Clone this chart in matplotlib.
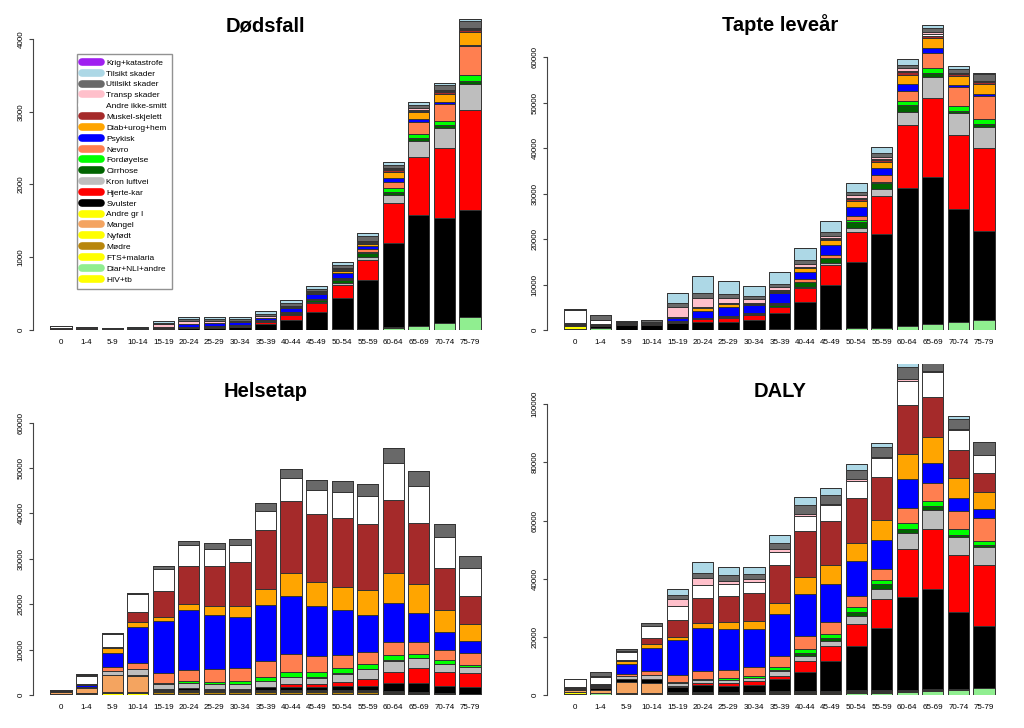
import numpy as np
import matplotlib.pyplot as plt
from matplotlib.lines import Line2D

ages = ["0", "1-4", "5-9", "10-14", "15-19", "20-24", "25-29", "30-34", "35-39",
        "40-44", "45-49", "50-54", "55-59", "60-64", "65-69", "70-74", "75-79"]

# causes in stacking order, bottom to top
causes = ["HIV+tb", "Diar+NLI+andre", "FTS+malaria", "Mødre", "Nyfødt", "Mangel",
          "Andre gr I", "Svulster", "Hjerte-kar", "Kron luftvei", "Cirrhose",
          "Fordøyelse", "Nevro", "Psykisk", "Diab+urog+hem", "Muskel-skjelett",
          "Andre ikke-smitt", "Transp skader", "Utilsikt skader", "Tilsikt skader",
          "Krig+katastrofe"]
colors = ["#FFFF00", "#90EE90", "#FFFF00", "#B8860B", "#FFFF00", "#F4A460",
          "#FFFF00", "#000000", "#FF0000", "#BEBEBE", "#006400",
          "#00FF00", "#FF7F50", "#0000FF", "#FFA500", "#A52A2A",
          "#FFFFFF", "#FFC0CB", "#696969", "#ADD8E6",
          "#A020F0"]

# one row per age group, values in the cause order above
dodsfall = [
    [0, 3, 0, 0, 12, 0, 1, 3, 2, 0, 0, 0, 3, 0, 2, 0, 25, 2, 5, 0, 0],
    [0, 3, 0, 0, 0, 0, 1, 15, 1, 0, 0, 0, 5, 0, 1, 0, 8, 4, 7, 0, 0],
    [0, 1, 0, 0, 0, 0, 0, 14, 1, 0, 0, 0, 3, 0, 1, 0, 3, 5, 4, 0, 0],
    [0, 1, 0, 0, 0, 0, 0, 12, 1, 0, 0, 0, 4, 0, 1, 0, 3, 5, 5, 3, 0],
    [0, 1, 0, 0, 0, 0, 0, 12, 4, 1, 0, 0, 4, 10, 2, 1, 2, 40, 22, 25, 0],
    [0, 1, 0, 0, 0, 0, 0, 25, 10, 2, 2, 1, 5, 35, 3, 1, 2, 30, 33, 34, 0],
    [0, 1, 0, 0, 0, 0, 0, 30, 10, 2, 3, 1, 5, 40, 3, 1, 2, 20, 30, 35, 0],
    [0, 1, 0, 0, 0, 0, 0, 45, 15, 3, 5, 1, 3, 35, 3, 2, 2, 12, 25, 31, 0],
    [0, 1, 0, 0, 0, 0, 1, 80, 30, 5, 10, 3, 5, 25, 5, 3, 3, 15, 35, 44, 0],
    [0, 2, 0, 0, 0, 0, 1, 135, 69, 8, 15, 5, 8, 60, 10, 5, 5, 12, 40, 38, 0],
    [0, 3, 0, 0, 0, 0, 1, 250, 115, 15, 25, 8, 10, 65, 15, 8, 5, 15, 35, 40, 0],
    [0, 5, 0, 0, 0, 0, 2, 430, 184, 20, 45, 10, 20, 69, 30, 15, 10, 15, 40, 35, 0],
    [0, 15, 0, 0, 0, 0, 2, 670, 275, 45, 45, 20, 35, 45, 35, 15, 10, 15, 69, 37, 0],
    [0, 32, 0, 0, 0, 0, 3, 1165, 541, 115, 45, 45, 82, 64, 73, 32, 15, 15, 45, 42, 0],
    [0, 55, 0, 0, 0, 0, 4, 1522, 801, 216, 45, 55, 155, 41, 96, 25, 15, 15, 48, 37, 0],
    [0, 92, 0, 0, 0, 0, 5, 1448, 961, 275, 37, 55, 228, 27, 119, 30, 10, 10, 65, 28, 0],
    [0, 175, 0, 0, 0, 0, 5, 1470, 1374, 357, 42, 82, 403, 10, 174, 37, 15, 10, 95, 25, 0],
]

tapte = [
    [0, 300, 0, 0, 600, 0, 100, 100, 150, 0, 0, 0, 150, 0, 150, 0, 2800, 100, 100, 0, 0],
    [0, 350, 0, 0, 0, 0, 50, 550, 200, 0, 0, 0, 100, 0, 50, 0, 800, 150, 977, 0, 0],
    [0, 50, 0, 0, 0, 0, 0, 1050, 50, 0, 0, 0, 150, 0, 50, 0, 200, 150, 280, 0, 0],
    [0, 50, 0, 0, 0, 0, 0, 1050, 50, 0, 0, 0, 100, 0, 50, 0, 200, 200, 400, 100, 0],
    [0, 67, 0, 0, 0, 0, 0, 1400, 250, 50, 0, 0, 150, 796, 150, 0, 100, 2200, 880, 2024, 0],
    [0, 33, 0, 0, 0, 0, 0, 1800, 514, 80, 0, 0, 200, 1626, 587, 80, 100, 2127, 953, 3780, 0],
    [0, 33, 0, 0, 0, 0, 0, 1800, 880, 100, 0, 0, 300, 2020, 500, 100, 100, 1100, 953, 2894, 0],
    [0, 50, 0, 0, 0, 0, 0, 2150, 1100, 100, 100, 0, 250, 1750, 250, 100, 150, 880, 587, 2286, 0],
    [0, 200, 0, 0, 0, 0, 0, 3467, 1320, 150, 440, 80, 300, 2110, 367, 150, 150, 733, 733, 2487, 0],
    [0, 200, 0, 0, 0, 0, 0, 6033, 2934, 300, 1100, 100, 587, 1579, 733, 220, 150, 513, 953, 2711, 0],
    [0, 300, 0, 0, 0, 0, 0, 9600, 4400, 367, 1100, 150, 587, 2200, 1100, 220, 150, 587, 733, 2486, 0],
    [0, 513, 0, 0, 0, 0, 0, 14520, 6600, 734, 1467, 367, 953, 1980, 1247, 367, 220, 733, 733, 1833, 0],
    [0, 513, 0, 0, 0, 0, 0, 20534, 8433, 1467, 1320, 367, 1466, 1613, 1320, 367, 220, 513, 880, 1320, 0],
    [0, 880, 0, 0, 0, 0, 0, 30287, 13933, 2933, 1467, 880, 2200, 1540, 1980, 587, 293, 587, 733, 1320, 0],
    [0, 1247, 0, 0, 0, 0, 0, 32486, 17380, 4474, 1027, 1100, 3299, 953, 2201, 587, 293, 440, 1027, 586, 0],
    [0, 1687, 0, 0, 0, 0, 0, 24860, 16353, 4767, 513, 1173, 4180, 367, 1980, 440, 100, 150, 880, 700, 0],
    [0, 2200, 0, 0, 0, 0, 0, 19580, 18187, 4767, 513, 1100, 5207, 367, 2200, 513, 100, 100, 1500, 130, 0],
]

helsetap = [
    [0, 100, 0, 0, 200, 400, 100, 0, 0, 0, 0, 0, 0, 0, 0, 300, 0, 0, 0, 0, 0],
    [0, 300, 200, 0, 0, 950, 0, 150, 0, 0, 0, 0, 200, 300, 0, 250, 1900, 50, 300, 0, 0],
    [100, 0, 300, 0, 334, 3670, 0, 100, 0, 854, 0, 0, 734, 3230, 954, 367, 2716, 0, 367, 0, 0],
    [100, 0, 300, 0, 334, 3450, 0, 220, 0, 1248, 0, 0, 1398, 7927, 1100, 2202, 3887, 0, 368, 0, 0],
    [100, 0, 200, 300, 200, 300, 0, 300, 0, 1100, 0, 200, 2218, 11450, 880, 5652, 4845, 0, 734, 0, 0],
    [100, 0, 200, 300, 200, 300, 0, 514, 0, 1100, 0, 300, 2491, 13212, 1321, 8368, 4551, 0, 880, 0, 0],
    [100, 0, 200, 300, 200, 300, 0, 300, 0, 1100, 0, 400, 2752, 11891, 2055, 8808, 3817, 0, 1174, 0, 0],
    [100, 0, 200, 300, 200, 300, 0, 300, 0, 1100, 0, 500, 3019, 11230, 2349, 9762, 3670, 0, 1248, 0, 0],
    [100, 0, 200, 300, 200, 300, 0, 600, 0, 1456, 0, 880, 3524, 12258, 3523, 12919, 4330, 0, 1615, 0, 0],
    [100, 0, 200, 300, 200, 400, 0, 500, 700, 1468, 100, 1174, 3985, 12698, 5065, 15781, 5138, 0, 2055, 0, 0],
    [100, 0, 200, 300, 200, 400, 0, 500, 700, 1400, 100, 1100, 3613, 11010, 5285, 15047, 5138, 0, 2202, 0, 0],
    [100, 0, 200, 300, 200, 400, 0, 700, 1000, 1823, 100, 1221, 2716, 10056, 4991, 15194, 5725, 0, 2349, 0, 0],
    [100, 0, 200, 300, 200, 300, 0, 880, 1470, 2202, 100, 1100, 2543, 8221, 5505, 14460, 6239, 0, 2569, 0, 0],
    [100, 0, 100, 200, 200, 300, 0, 1816, 2275, 2569, 100, 1100, 2984, 8441, 6606, 16148, 8074, 0, 3450, 0, 0],
    [100, 0, 100, 200, 100, 200, 0, 1869, 3303, 2275, 100, 880, 2617, 6239, 6459, 13359, 8221, 0, 3376, 0, 0],
    [50, 0, 100, 200, 50, 100, 0, 1555, 3083, 1688, 100, 734, 2249, 4037, 4771, 9322, 6826, 0, 2789, 0, 0],
    [50, 0, 50, 100, 50, 50, 0, 1535, 2936, 1321, 150, 367, 2566, 2789, 3670, 6239, 6019, 0, 2789, 0, 0],
]

daly = [
    [0, 400, 0, 0, 800, 400, 200, 100, 150, 0, 0, 0, 150, 0, 150, 300, 2800, 100, 100, 0, 0],
    [0, 650, 200, 0, 0, 950, 50, 700, 200, 0, 0, 0, 300, 300, 50, 250, 2700, 200, 1277, 0, 0],
    [100, 50, 300, 0, 334, 3670, 0, 1150, 50, 854, 0, 0, 884, 3230, 1004, 367, 2916, 150, 647, 0, 0],
    [100, 50, 300, 0, 334, 3450, 0, 1270, 50, 1248, 0, 0, 1498, 7927, 1150, 2202, 4087, 200, 768, 100, 0],
    [100, 67, 200, 300, 200, 300, 0, 1700, 250, 1150, 0, 200, 2368, 12246, 1030, 5652, 4945, 2200, 1614, 2024, 0],
    [100, 33, 200, 300, 200, 300, 0, 2314, 514, 1180, 0, 300, 2691, 14838, 1908, 8448, 4651, 2127, 1833, 3780, 0],
    [100, 33, 200, 300, 200, 300, 0, 2100, 880, 1200, 0, 400, 3052, 13911, 2555, 8908, 3917, 1100, 2127, 2894, 0],
    [100, 50, 200, 300, 200, 300, 0, 2450, 1100, 1200, 100, 500, 3269, 12980, 2599, 9862, 3820, 880, 1835, 2286, 0],
    [100, 200, 200, 300, 200, 300, 0, 4067, 1320, 1606, 440, 960, 3824, 14368, 3890, 13069, 4480, 733, 2348, 2487, 0],
    [100, 200, 200, 300, 200, 400, 0, 6533, 3634, 1768, 1200, 1274, 4572, 14277, 5798, 16001, 5288, 513, 3008, 2711, 0],
    [100, 300, 200, 300, 200, 400, 0, 10100, 5100, 1767, 1200, 1250, 4200, 13210, 6385, 15267, 5288, 587, 2935, 2486, 0],
    [100, 513, 200, 300, 200, 400, 0, 15220, 7600, 2557, 1567, 1588, 3669, 12036, 6238, 15561, 5945, 733, 3082, 1833, 0],
    [100, 513, 200, 300, 200, 300, 0, 21414, 9903, 3669, 1420, 1467, 4009, 9834, 6825, 14827, 6459, 513, 3449, 1320, 0],
    [100, 880, 100, 200, 200, 300, 0, 32103, 16208, 5502, 1567, 1980, 5184, 9981, 8586, 16735, 8367, 587, 4183, 1320, 0],
    [100, 1247, 100, 200, 100, 200, 0, 34355, 20683, 6749, 1127, 1980, 5916, 7192, 8660, 13946, 8514, 440, 4403, 586, 0],
    [50, 1687, 100, 200, 50, 100, 0, 26415, 19436, 6455, 613, 1907, 6429, 4404, 6751, 9762, 6926, 150, 3669, 700, 0],
    [50, 2200, 50, 100, 50, 50, 0, 21115, 21123, 6088, 663, 1467, 7773, 3156, 5870, 6752, 6119, 100, 4289, 130, 0],
]

W, H = 1024, 728
plt.rcParams['font.family'] = ['Liberation Sans', 'DejaVu Sans']
fig = plt.figure(figsize=(W / 100, H / 100), dpi=100)


def panel(rows, left, right, top, zero_px, tick_px, ticks, title, title_x, title_y):
    # axes spans from the zero line up to the top of its figure region (bars are clipped there)
    ax = fig.add_axes([left / W, 1 - zero_px / H, (right - left) / W, (zero_px - top) / H])
    ppu = (zero_px - tick_px) / ticks[-1]
    vals = np.array(rows, dtype=float).T
    x = np.arange(len(ages))
    base = np.zeros(len(ages))
    for v, c in zip(vals, colors):
        ax.bar(x, v, bottom=base, width=0.833, color=c, edgecolor='#333333', linewidth=0.7)
        base += v
    ax.set_ylim(0, (zero_px - top) / ppu)
    ax.set_xlim(-28 / 25.5, len(ages) - 1 + (right - 470 - (left - 33)) / 25.5)
    ax.set_yticks(ticks, [str(t) for t in ticks])
    ax.set_xticks(x, ages)
    for s in ['top', 'right', 'bottom']:
        ax.spines[s].set_visible(False)
    ax.spines['left'].set_bounds(0, ticks[-1])
    ax.spines['left'].set_color('#444444')
    ax.spines['left'].set_linewidth(0.8)
    ax.tick_params(axis='y', length=3, width=0.8, color='#444444', labelsize=5.8,
                   pad=3, labelrotation=90)
    ax.tick_params(axis='x', length=0, labelsize=5.8, pad=6.5)
    for lab in ax.get_yticklabels():
        lab.set_va('center')
    ax.patch.set_visible(False)
    fig.text(title_x / W, 1 - title_y / H, title, ha='center', va='baseline',
             fontsize=14.5, fontweight='bold')
    return ax


panel(dodsfall, 33, 500, 0, 330, 39, [0, 1000, 2000, 3000, 4000], "Dødsfall", 265, 31)
panel(tapte, 547, 1014, 0, 330, 57.3, [0, 10000, 20000, 30000, 40000, 50000, 60000],
      "Tapte leveår", 780, 31)
panel(helsetap, 33, 500, 364, 695, 422.7, [0, 10000, 20000, 30000, 40000, 50000, 60000],
      "Helsetap", 266, 397)
panel(daly, 547, 1014, 364, 695, 404.3, [0, 20000, 40000, 60000, 80000, 100000],
      "DALY", 780, 397)

handles = [Line2D([], [], color=c, lw=5.5, solid_capstyle='round') for c in reversed(colors)]
leg = fig.legend(handles, list(reversed(causes)), loc='upper left',
                 bbox_to_anchor=(77 / W, 1 - 54 / H), bbox_transform=fig.transFigure,
                 frameon=True, fancybox=False, edgecolor='#777777', fontsize=6,
                 handlelength=2.3, handletextpad=0.6, labelspacing=0.36,
                 borderpad=0.6, borderaxespad=0)
leg.get_frame().set_linewidth(1.0)

fig.savefig("out.png", dpi=100)
